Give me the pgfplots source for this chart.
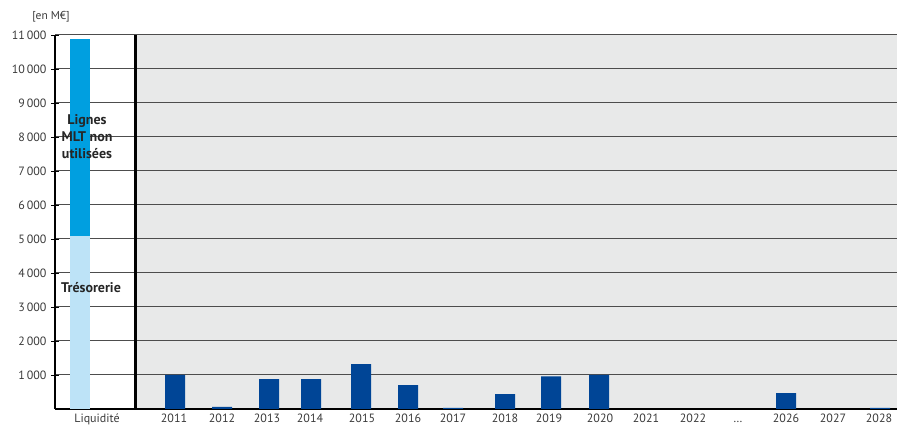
\documentclass[border=0pt]{standalone}
\usepackage{pgfplots}
\pgfplotsset{compat=1.18}
\usepackage{fontspec}
\setmainfont{PT Sans}
\definecolor{bgrey}{HTML}{E8E9E9}
\definecolor{gridc}{HTML}{4D4D4D}
\definecolor{lblue}{HTML}{BDE3F7}
\definecolor{cblue}{HTML}{009FE0}
\definecolor{dblue}{HTML}{004596}
\definecolor{tickc}{HTML}{3A3A3A}
\begin{document}
\begin{tikzpicture}
\begin{axis}[
  set layers,
  scale only axis,
  width=842pt, height=374pt,
  xmin=55, xmax=897,
  ymin=0, ymax=11000,
  clip=false,
  scaled y ticks=false,
  axis x line*=bottom,
  axis y line*=left,
  axis line style={black, line width=1.3pt, -},
  xtick={97,174,222,267,310,362,408,453,505,549,600,646,693,738,786,833,879},
  xticklabels={Liquidité,2011,2012,2013,2014,2015,2016,2017,2018,2019,2020,2021,2022,\vphantom{2}\ldots,2026,2027,2028},
  x tick label style={font=\fontsize{12}{14}\selectfont, text=tickc, yshift=3pt},
  major x tick style={draw=none},
  ytick={1000,2000,...,11000},
  y tick label style={font=\fontsize{12}{14}\selectfont, text=tickc, xshift=-1pt},
  major y tick style={black, line width=0.9pt},
  tick align=center,
  major tick length=8pt,
  ymajorgrids,
  grid style={gridc, line width=1pt},
  /pgf/number format/.cd, 1000 sep={\,}, assume math mode=true,
]
\pgfonlayer{axis background}
\fill[bgrey] (axis cs:135,0) rectangle (axis cs:897,11000);
\endpgfonlayer

\addplot[ybar, bar width=20, bar shift=0pt, fill=cblue, draw=none] coordinates {(80,10870)};
\addplot[ybar, bar width=20, bar shift=0pt, fill=lblue, draw=none] coordinates {(80,5100)};
\addplot[ybar, bar width=20, bar shift=0pt, fill=dblue, draw=none] coordinates {
(175,1000) (222,60) (269,880) (311,880) (361,1320) (408,700) (453,30) (505,440)
(551,960) (599,1000) (786,470) (880,30)};

\draw[black, line width=3pt] (axis cs:135,0) -- (axis cs:135,11000);

\node[font=\bfseries\fontsize{14}{17}\selectfont, text=black!85, align=center] at (axis cs:87,8000) {Lignes\\MLT non\\utilisées};
\node[font=\bfseries\fontsize{14}{17}\selectfont, text=black!85] at (axis cs:91,3560) {Trésorerie};
\node[font=\fontsize{11.5}{13}\selectfont, text=tickc] at (axis cs:51,11530) {[en M€]};
\end{axis}
\pgfresetboundingbox
\useasboundingbox (-55pt,-16pt) rectangle (843pt,409pt);
\end{tikzpicture}
\end{document}
